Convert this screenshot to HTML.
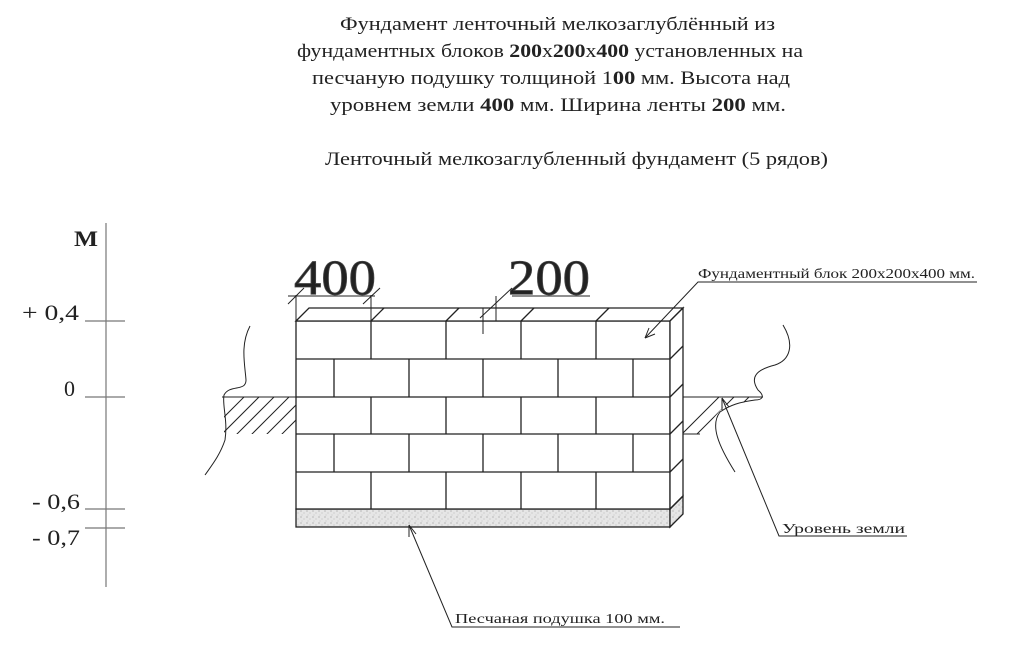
<!DOCTYPE html>
<html><head><meta charset="utf-8"><style>
html,body{margin:0;padding:0;background:#fff;}
svg{display:block;}
text{font-family:"Liberation Serif","DejaVu Serif",serif;fill:#222;}
</style></head><body>
<svg width="1024" height="652" viewBox="0 0 1024 652" xmlns="http://www.w3.org/2000/svg">
<defs>
<pattern id="sand" width="6" height="6" patternUnits="userSpaceOnUse">
<rect width="6" height="6" fill="#e6e6e6"/>
<circle cx="1" cy="1" r="0.6" fill="#999"/><circle cx="4" cy="3" r="0.5" fill="#aaa"/><circle cx="2" cy="5" r="0.5" fill="#bbb"/>
</pattern>
<clipPath id="hl"><polygon points="224,397 296,397 296,434 224,434"/></clipPath>
<clipPath id="hr"><polygon points="683,397 763,397 748,402 725,405 700,434 683,434"/></clipPath>
</defs>

<!-- Titles -->
<g font-size="19" lengthAdjust="spacingAndGlyphs">
<text x="340" y="30" textLength="435" lengthAdjust="spacingAndGlyphs">Фундамент ленточный мелкозаглублённый из</text>
<text x="297" y="57" textLength="506" lengthAdjust="spacingAndGlyphs">фундаментных блоков <tspan font-weight="bold">200</tspan>х<tspan font-weight="bold">200</tspan>х<tspan font-weight="bold">400</tspan> установленных на</text>
<text x="312" y="84" textLength="478" lengthAdjust="spacingAndGlyphs">песчаную подушку толщиной 1<tspan font-weight="bold">00</tspan> мм. Высота над</text>
<text x="330" y="111" textLength="456" lengthAdjust="spacingAndGlyphs">уровнем земли <tspan font-weight="bold">400</tspan> мм. Ширина ленты <tspan font-weight="bold">200</tspan> мм.</text>
<text x="325" y="165" textLength="503" lengthAdjust="spacingAndGlyphs">Ленточный мелкозаглубленный фундамент (5 рядов)</text>
</g>

<!-- Scale -->
<g stroke="#777" stroke-width="1.2">
<line x1="106" y1="223" x2="106" y2="587"/>
<line x1="85" y1="321" x2="125" y2="321"/>
<line x1="85" y1="397" x2="125" y2="397"/>
<line x1="85" y1="509" x2="125" y2="509"/>
<line x1="85" y1="528" x2="125" y2="528"/>
</g>
<g font-size="22">
<text x="74" y="246" font-weight="bold" textLength="24" lengthAdjust="spacingAndGlyphs">М</text>
<text x="22" y="320" textLength="57" lengthAdjust="spacingAndGlyphs">+ 0,4</text>
<text x="64" y="396">0</text>
<text x="32" y="509" textLength="48" lengthAdjust="spacingAndGlyphs">- 0,6</text>
<text x="32" y="545" textLength="48" lengthAdjust="spacingAndGlyphs">- 0,7</text>
</g>

<!-- Ground hatching -->
<g stroke="#222" stroke-width="1" fill="none">
<line x1="222" y1="397" x2="296" y2="397"/>
<line x1="683" y1="397" x2="763" y2="397"/>
<line x1="683" y1="434" x2="700" y2="434"/>
<g clip-path="url(#hl)">
<path d="M210,446 l50,-50 M225,446 l50,-50 M240,446 l50,-50 M255,446 l50,-50 M270,446 l50,-50 M285,446 l50,-50 M195,446 l50,-50"/>
</g>
<g clip-path="url(#hr)">
<path d="M670,446 l50,-50 M685,446 l50,-50 M700,446 l50,-50 M715,446 l50,-50 M730,446 l50,-50 M745,446 l50,-50"/>
</g>
<path d="M250,326 C240,345 245,365 246,380 C246,392 230,384 224,395 C222,405 228,420 225,440 C220,455 212,465 205,475"/>
<path d="M783,325 C795,345 790,360 775,365 C755,370 750,378 758,390 C765,396 763,400 755,400 C740,402 730,405 720,412 C710,425 718,445 735,472"/>
</g>

<!-- Wall -->
<g stroke="#222" stroke-width="1.3" fill="none">
<rect x="296" y="509" width="374" height="18" fill="url(#sand)"/>
<polygon points="670,509 683,496 683,514 670,527" fill="url(#sand)"/>
<rect x="296" y="321" width="374" height="188" fill="#fff"/>
<polygon points="296,321 309,308 683,308 670,321" fill="#fff"/>
<polygon points="670,321 683,308 683,496 670,509" fill="#fff"/>
<path d="M296,359 H670 M296,397 H670 M296,434 H670 M296,472 H670"/>
<path d="M371,321 V359 M446,321 V359 M521,321 V359 M596,321 V359"/>
<path d="M371,397 V434 M446,397 V434 M521,397 V434 M596,397 V434"/>
<path d="M371,472 V509 M446,472 V509 M521,472 V509 M596,472 V509"/>
<path d="M334,359 V397 M409,359 V397 M483,359 V397 M558,359 V397 M633,359 V397"/>
<path d="M334,434 V472 M409,434 V472 M483,434 V472 M558,434 V472 M633,434 V472"/>
<path d="M371,321 l13,-13 M446,321 l13,-13 M521,321 l13,-13 M596,321 l13,-13"/>
<path d="M670,359 l13,-13 M670,397 l13,-13 M670,434 l13,-13 M670,472 l13,-13 M670,509 l13,-13"/>
</g>

<!-- Dimensions -->
<g stroke="#222" stroke-width="1" fill="none">
<line x1="296" y1="321" x2="296" y2="295"/>
<line x1="371" y1="321" x2="371" y2="295"/>
<line x1="288" y1="296" x2="375" y2="296"/>
<line x1="288" y1="304" x2="304" y2="288"/>
<line x1="363" y1="304" x2="380" y2="288"/>
<line x1="483" y1="334" x2="483" y2="308"/>
<line x1="496" y1="296" x2="496" y2="321"/>
<line x1="480" y1="318" x2="512" y2="288"/>
<line x1="512" y1="296" x2="590" y2="296"/>
</g>
<text x="294" y="294" font-size="50" fill="#444" stroke="#444" stroke-width="0.8" textLength="82" lengthAdjust="spacingAndGlyphs">400</text>
<text x="508" y="294" font-size="50" fill="#444" stroke="#444" stroke-width="0.8" textLength="82" lengthAdjust="spacingAndGlyphs">200</text>

<!-- Leaders -->
<g stroke="#222" stroke-width="1" fill="none">
<path d="M977,282 H698 L645,338"/>
<path d="M645,338 l4,-10 M645,338 l10,-4"/>
<path d="M907,536 H779 L722,398"/>
<path d="M722,398 l0,12 M722,398 l7,9"/>
<path d="M680,627 H452 L409,525"/>
<path d="M409,525 l0,12 M409,525 l7,9"/>
</g>
<g font-size="14">
<text x="698" y="278" textLength="277" lengthAdjust="spacingAndGlyphs">Фундаментный блок 200х200х400 мм.</text>
<text x="782" y="533" textLength="123" lengthAdjust="spacingAndGlyphs">Уровень земли</text>
<text x="455" y="623" textLength="210" lengthAdjust="spacingAndGlyphs">Песчаная подушка  100 мм.</text>
</g>
</svg>
</body></html>
